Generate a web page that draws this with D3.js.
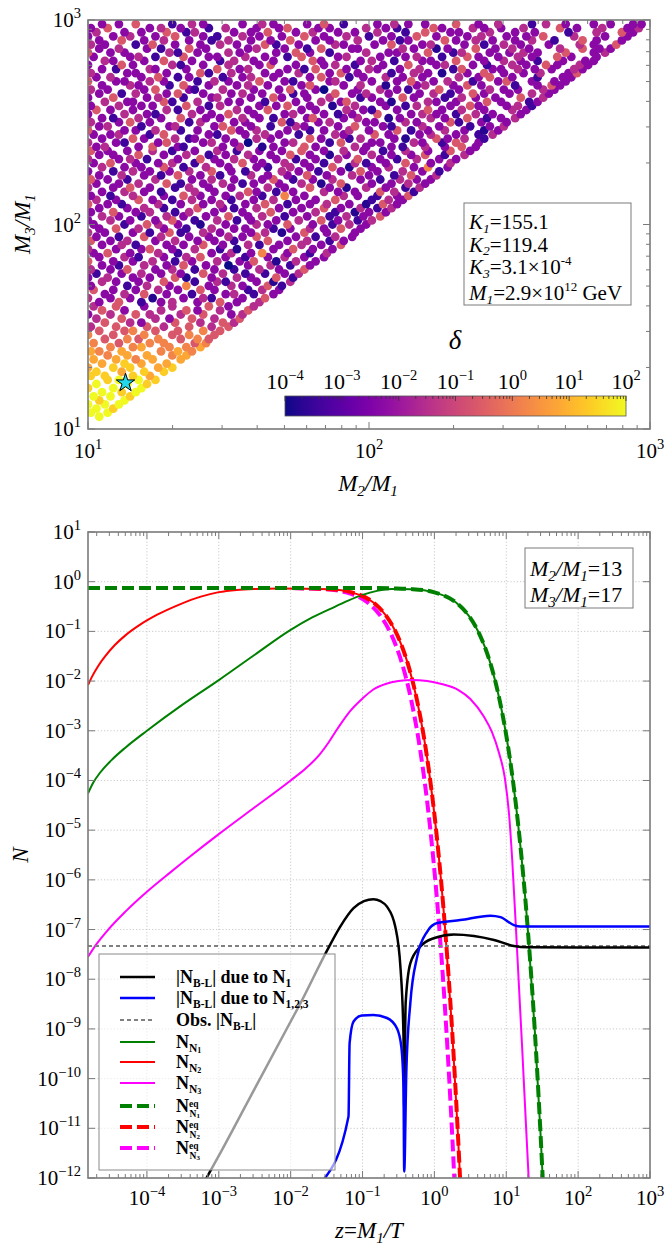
<!DOCTYPE html>
<html><head><meta charset="utf-8">
<script src="https://cdn.jsdelivr.net/npm/d3@7"></script>
<style>body{margin:0;background:#fff}text{font-family:"Liberation Serif","Times New Roman",serif;fill:#000}</style>
</head><body>
<script>
// ================= DATA =================
// Top panel scatter. Row index = yy: log10(M3/M1) = 1 + yy*rowStep.
// Token "xxxd": log10(M2/M1) = 1 + xxx*colStep ; d = delta level code (see deltaLevels)
const rowStep = 0.02, colStep = 0.01;
const scatterRows = [
"","","",
"0049",
"0019 0079",
"0039 0098",
"0009 0069 0119",
"0048 0139",
"0029 0089 0158",
"0059 0128 0179",
"0008 0099 0199",
"0039 0149 0218",
"0078 0119 0189 0248",
"0018 0068 0168 0227",
"0038 0127 0208 0278",
"0007 0098 0158 0257 0308",
"0057 0138 0197 0287",
"0027 0107 0176 0237 0337",
"0076 0147 0217 0306 0357",
"0017 0046 0127 0266 0327 0376",
"0086 0166 0197 0296 0356 0407",
"0026 0115 0226 0276 0385 0426",
"0065 0146 0185 0256 0335 0396 0435",
"0006 0095 0206 0305 0366 0455",
"0045 0135 0166 0245 0325 0416 0475",
"0014 0105 0215 0274 0365 0444 0505",
"0065 0154 0193 0315 0404 0485 0524",
"0034 0125 0244 0293 0375 0454 0545",
"0003 0084 0175 0224 0334 0415 0513 0554",
"0055 0133 0264 0355 0393 0474 0575",
"0024 0105 0203 0304 0435 0503 0594",
"0043 0115 0192 0263 0304 0393 0475 0533 0614",
"0004 0083 0153 0231 0343 0414 0442 0553 0635",
"0063 0134 0205 0283 0372 0493 0524 0592 0663",
"0025 0093 0173 0254 0323 0405 0453 0572 0624 0683",
"0013 0142 0214 0293 0356 0433 0514 0553 0645 0692",
"0054 0103 0183 0275 0382 0464 0492 0603 0661 0724",
"0003 0074 0163 0223 0315 0351 0443 0534 0583 0675 0732",
"0032 0123 0194 0263 0333 0415 0484 0562 0632 0703 0754",
"0014 0083 0145 0243 0304 0382 0453 0522 0614 0683 0775",
"0053 0112 0204 0283 0345 0423 0500 0573 0654 0722 0793",
"0005 0093 0163 0234 0312 0373 0464 0543 0595 0671 0744 0813",
"0043 0134 0182 0273 0354 0405 0493 0562 0643 0704 0773 0843",
"0023 0075 0153 0254 0322 0443 0514 0583 0626 0713 0792 0854",
"0004 0103 0193 0225 0303 0384 0472 0531 0663 0735 0803 0873",
"0053 0124 0172 0283 0343 0415 0483 0574 0612 0683 0764 0833 0905",
"0015 0083 0144 0243 0314 0393 0453 0522 0645 0713 0784 0862 0913",
"0033 0112 0205 0264 0363 0433 0504 0553 0605 0743 0812 0884 0943",
"0004 0063 0163 0222 0295 0332 0414 0473 0583 0634 0691 0775 0853 0953",
"0043 0105 0184 0273 0352 0444 0523 0563 0662 0723 0794 0843 0905 0973",
"0023 0132 0215 0254 0323 0401 0493 0604 0643 0715 0803 0872 0934 0993",
"0003 0084 0153 0243 0305 0382 0464 0532 0583 0673 0754 0835 0893 0962 1014",
"0054 0113 0192 0284 0343 0423 0505 0573 0624 0702 0783 0862 0924 0983 1045",
"0013 0095 0173 0224 0312 0364 0453 0553 0655 0733 0814 0882 0951 1003 1063",
"0043 0143 0204 0272 0395 0483 0522 0604 0683 0763 0845 0903 0974 1032 1084",
"0005 0073 0122 0254 0333 0413 0474 0563 0635 0712 0793 0854 0933 0991 1055 1103",
"0034 0103 0185 0233 0302 0374 0443 0512 0593 0664 0743 0813 0885 1012 1074 1123",
"0013 0082 0164 0273 0345 0403 0493 0544 0622 0706 0773 0914 0963 1032 1103 1145",
"0053 0134 0203 0262 0384 0453 0575 0603 0672 0733 0844 0893 0953 1045 1094 1162",
"0004 0093 0155 0223 0312 0364 0433 0513 0644 0703 0795 0863 0921 0994 1063 1132 1184",
"0033 0113 0184 0285 0332 0413 0484 0552 0593 0683 0764 0831 0905 1013 1083 1144 1203",
"0015 0073 0142 0244 0373 0444 0523 0623 0665 0732 0803 0874 0973 1042 1114 1173 1223",
"0043 0124 0203 0262 0325 0403 0472 0584 0643 0713 0785 0853 0944 1003 1092 1155 1244",
"0003 0092 0164 0223 0293 0364 0445 0513 0562 0694 0753 0822 0903 0975 1033 1124 1193 1252",
"0054 0133 0193 0275 0342 0424 0503 0603 0642 0724 0793 0875 0931 1013 1074 1163 1216 1283",
"0023 0085 0173 0253 0304 0382 0473 0555 0623 0704 0773 0842 0954 0992 1063 1135 1223 1294",
"0004 0113 0154 0212 0323 0405 0453 0524 0593 0673 0742 0813 0894 0965 1043 1102 1174 1253 1313",
"0043 0093 0185 0273 0354 0432 0493 0574 0653 0725 0793 0861 0923 1014 1083 1153 1205 1272 1344",
"0015 0073 0143 0234 0302 0383 0464 0532 0613 0693 0765 0843 0914 0983 1052 1134 1213 1295 1363",
"0033 0064 0183 0235 0323 0342 0483 0544 0621 0663 0775 0813 0954 0993 1083 1122 1204 1273 1335 1383",
"0004 0103 0132 0253 0285 0413 0444 0523 0570 0703 0734 0862 0905 1013 1043 1164 1193 1262 1315 1393",
"0053 0165 0203 0314 0362 0383 0493 0604 0653 0795 0833 0932 0974 1093 1131 1245 1283 1344 1412",
"0023 0083 0114 0222 0275 0433 0462 0563 0634 0683 0752 0884 0913 1025 1073 1183 1224 1313 1392 1444",
"0005 0133 0173 0244 0332 0393 0515 0543 0604 0713 0792 0843 0934 1003 1105 1152 1213 1274 1343 1411 1463",
"0043 0074 0192 0293 0314 0453 0485 0583 0652 0744 0773 0893 0955 1053 1082 1194 1253 1362 1433 1484",
"0014 0113 0155 0223 0362 0404 0523 0563 0695 0722 0823 0864 0993 1023 1134 1173 1295 1322 1403 1493",
"0053 0092 0184 0263 0335 0423 0473 0554 0613 0662 0783 0805 0913 0964 1071 1113 1224 1273 1355 1422 1473 1524",
"0003 0134 0213 0242 0374 0443 0505 0593 0703 0734 0843 0892 0943 1035 1153 1194 1243 1312 1384 1443 1543",
"0035 0083 0163 0284 0322 0403 0534 0573 0645 0763 0813 0924 0983 1012 1103 1215 1263 1334 1413 1514 1563",
"0013 0114 0193 0233 0355 0432 0474 0613 0673 0715 0793 0871 0954 1063 1132 1174 1293 1365 1393 1493 1534 1582",
"0064 0143 0163 0275 0302 0394 0503 0543 0632 0743 0834 0903 0925 1043 1081 1214 1243 1313 1425 1473 1572 1603",
"0003 0095 0213 0254 0342 0443 0464 0583 0665 0693 0783 0864 0972 1013 1125 1163 1272 1334 1383 1453 1545 1624",
"0043 0122 0174 0283 0325 0413 0513 0554 0623 0732 0773 0885 0943 0994 1073 1183 1234 1292 1375 1413 1503 1584 1643",
"0014 0073 0203 0245 0363 0382 0484 0593 0683 0725 0813 0840 0963 1044 1103 1142 1255 1323 1434 1483 1533 1624 1663",
"0053 0154 0183 0292 0345 0433 0533 0574 0643 0763 0795 0913 0974 1061 1173 1204 1303 1355 1403 1522 1603 1655 1683",
"0005 0103 0133 0224 0273 0392 0454 0503 0615 0703 0732 0863 0884 1013 1103 1155 1233 1284 1372 1463 1495 1583 1663 1703",
"0033 0084 0193 0255 0322 0363 0482 0553 0584 0663 0793 0835 0932 0983 1064 1123 1193 1324 1393 1435 1513 1602 1693 1723",
"0014 0143 0173 0283 0405 0432 0514 0633 0683 0754 0863 0905 0963 1082 1164 1213 1261 1353 1415 1483 1553 1614 1713 1745",
"0053 0102 0224 0243 0353 0465 0543 0574 0713 0772 0815 0923 1004 1033 1113 1184 1302 1335 1443 1473 1534 1593 1653 1734 1763",
"0003 0125 0163 0304 0332 0413 0504 0613 0655 0743 0843 0884 0952 1053 1145 1243 1274 1373 1422 1514 1563 1635 1673 1754 1783",
"0064 0093 0203 0275 0373 0472 0524 0593 0663 0805 0833 0973 1014 1092 1193 1223 1315 1413 1484 1543 1602 1693 1773 1803",
"0023 0153 0184 0242 0345 0433 0463 0564 0633 0712 0765 0893 0924 1043 1133 1174 1262 1355 1393 1463 1534 1583 1675 1723 1813",
"0005 0083 0133 0294 0322 0393 0504 0543 0673 0745 0793 0862 0994 1073 1103 1215 1302 1334 1433 1503 1554 1603 1705 1803 1844",
"0043 0114 0213 0262 0365 0423 0573 0604 0703 0782 0835 0943 0963 1124 1163 1241 1283 1385 1453 1514 1573 1684 1765 1823 1863",
"0014 0063 0172 0235 0313 0403 0474 0533 0635 0672 0753 0884 0913 1023 1085 1193 1224 1343 1412 1484 1543 1643 1754 1803 1885",
"0043 0125 0203 0274 0363 0442 0504 0583 0653 0725 0813 0863 0964 1053 1112 1143 1275 1313 1384 1443 1523 1584 1662 1765 1813 1903",
"0003 0093 0154 0243 0315 0413 0462 0554 0613 0693 0775 0843 0924 1002 1083 1175 1243 1353 1404 1493 1563 1625 1734 1843 1923",
"0034 0133 0193 0285 0352 0384 0523 0583 0645 0743 0804 0893 0953 1034 1132 1205 1293 1323 1434 1523 1593 1712 1814 1905 1943",
"0013 0075 0223 0264 0333 0432 0494 0603 0683 0715 0823 0863 0994 1063 1102 1235 1263 1374 1413 1473 1554 1685 1743 1834 1923 1964",
"0053 0113 0175 0302 0374 0413 0553 0624 0663 0783 0845 0912 1033 1094 1143 1203 1315 1393 1464 1582 1634 1703 1803 1863 1943 1973"
];
// log10(delta) for each level code 0..9
const deltaLevels = [-4.0, -3.75, -3.45, -2.3, -1.55, -0.65, 0.2, 0.8, 1.4, 2.0];
const deltaTickExps = [-4, -3, -2, -1, 0, 1, 2];
const starM2 = 13.6, starM3 = 16.8;
const boxLines = ["155.1", "119.4", "3.1", "2.9"];
const topXTickExps = [1, 2, 3];
const topYTickExps = [1, 2, 3];

// Bottom panel: curves as [log10 z, log10 N]
const nBL1 = [[-3.21,-12.1],[-2.98,-11.5],[-2.5,-10.2],[-2.0,-8.85],[-1.87,-8.5],[-1.5,-7.44],[-1.31,-6.94],[-1.125,-6.57],[-0.98,-6.43],[-0.85,-6.39],[-0.75,-6.43],[-0.66,-6.54],[-0.545,-6.94],[-0.47,-7.81],[-0.43,-9.15],[-0.42,-10.6],[-0.40,-8.48],[-0.335,-7.68],[-0.195,-7.34],[-0.01,-7.175],[0.27,-7.10],[0.55,-7.13],[0.83,-7.21],[1.106,-7.33],[1.3,-7.355],[2.0,-7.36],[3.0,-7.36]];
const nBL123 = [[-1.544,-12.04],[-1.195,-10.76],[-1.18,-9.29],[-1.125,-8.85],[-1.01,-8.73],[-0.85,-8.72],[-0.66,-8.78],[-0.52,-8.99],[-0.46,-9.36],[-0.43,-10.16],[-0.42,-11.87],[-0.39,-9.83],[-0.335,-8.48],[-0.24,-7.55],[-0.10,-7.04],[0.04,-6.87],[0.36,-6.81],[0.78,-6.72],[0.92,-6.75],[1.106,-6.91],[1.2,-6.94],[2.0,-6.94],[3.0,-6.94]];
const obsNBL = -7.33;
const nN1 = [[-4.82,-4.26],[-4.75,-4.05],[-4.65,-3.84],[-4.5,-3.6],[-4.3,-3.34],[-4.0,-3.0],[-3.5,-2.47],[-3.0,-1.98],[-2.5,-1.47],[-2.0,-0.97],[-1.7,-0.72],[-1.38,-0.50],[-1.2,-0.38],[-1.0,-0.265],[-0.8,-0.185],[-0.6,-0.145],[-0.3,-0.15],[0,-0.215],[0.301,-0.419],[0.477,-0.683],[0.602,-0.981],[0.699,-1.303],[0.778,-1.638],[0.903,-2.352],[1,-3.093],[1.079,-3.855],[1.176,-5.025],[1.301,-7.022],[1.398,-9.056],[1.477,-11.115],[1.505,-11.94],[1.519,-12.36]];
const nN2 = [[-4.82,-2.08],[-4.76,-1.9],[-4.68,-1.7],[-4.58,-1.5],[-4.45,-1.28],[-4.3,-1.08],[-4.1,-0.87],[-3.85,-0.66],[-3.55,-0.46],[-3.25,-0.3],[-3.0,-0.21],[-2.75,-0.165],[-2.5,-0.145],[-2.15,-0.135],[-1.45,-0.15],[-1.15,-0.215],[-0.849,-0.419],[-0.673,-0.683],[-0.548,-0.981],[-0.451,-1.303],[-0.372,-1.638],[-0.247,-2.352],[-0.15,-3.093],[-0.071,-3.855],[0.026,-5.025],[0.151,-7.022],[0.248,-9.056],[0.327,-11.115],[0.355,-11.94],[0.369,-12.36]];
const nN3 = [[-4.82,-7.55],[-4.7,-7.29],[-4.55,-7.02],[-4.3,-6.64],[-4.0,-6.24],[-3.7,-5.88],[-3.4,-5.53],[-3.0,-5.08],[-2.5,-4.54],[-2.0,-4.0],[-1.8,-3.77],[-1.61,-3.5],[-1.47,-3.23],[-1.335,-2.93],[-1.17,-2.6],[-1.0,-2.35],[-0.85,-2.17],[-0.68,-2.06],[-0.5,-2.0],[-0.315,-1.98],[-0.1,-2.0],[0.1,-2.06],[0.335,-2.18],[0.5,-2.36],[0.69,-2.72],[0.8,-3.02],[0.9,-3.45],[0.98,-3.95],[1.04,-4.7],[1.083,-5.6],[1.15,-7.4],[1.22,-9.35],[1.28,-11.1],[1.315,-12.1]];
const nN1eq = [[-4.82,-0.125],[-1,-0.126],[-0.6,-0.135],[-0.3,-0.15],[0,-0.215],[0.301,-0.419],[0.477,-0.683],[0.602,-0.981],[0.699,-1.303],[0.778,-1.638],[0.903,-2.352],[1,-3.093],[1.079,-3.855],[1.176,-5.025],[1.301,-7.022],[1.398,-9.056],[1.477,-11.115],[1.505,-11.94],[1.519,-12.36]];
const nN2eq = [[-4.82,-0.125],[-2.15,-0.126],[-1.45,-0.15],[-1.15,-0.215],[-0.849,-0.419],[-0.673,-0.683],[-0.548,-0.981],[-0.451,-1.303],[-0.372,-1.638],[-0.247,-2.352],[-0.15,-3.093],[-0.071,-3.855],[0.026,-5.025],[0.151,-7.022],[0.248,-9.056],[0.327,-11.115],[0.355,-11.94],[0.369,-12.36]];
const nN3eq = [[-4.82,-0.125],[-2.23,-0.126],[-1.53,-0.15],[-1.23,-0.215],[-0.929,-0.419],[-0.753,-0.683],[-0.628,-0.981],[-0.531,-1.303],[-0.452,-1.638],[-0.327,-2.352],[-0.23,-3.093],[-0.151,-3.855],[-0.054,-5.025],[0.071,-7.022],[0.168,-9.056],[0.247,-11.115],[0.275,-11.94],[0.289,-12.36]];
const botXTickExps = [-4,-3,-2,-1,0,1,2,3];
const botYTickExps = [1,0,-1,-2,-3,-4,-5,-6,-7,-8,-9,-10,-11,-12];
const ratioLabels = ["13", "17"];

// ================= DRAWING =================
const FONT = '"Liberation Serif","Times New Roman",serif';
const svg = d3.select("body").append("svg").attr("width",665).attr("height",1245)
  .attr("font-family", FONT).style("display","block");
const defs = svg.append("defs");
const AX = "#7a7a7a";

function rich(parent, x, y, parts, o = {}) {
  const t = parent.append("text").attr("x", x).attr("y", y).attr("font-family", FONT)
    .attr("font-size", o.size || 21).attr("text-anchor", o.anchor || "start")
    .attr("font-weight", o.weight || "normal");
  if (o.rotate) t.attr("transform", `rotate(${o.rotate},${x},${y})`);
  let cur = 0;
  parts.forEach(p => {
    const sh = p.sh || 0;
    const ts = t.append("tspan").text(p.t).attr("dy", cur - sh);
    cur = sh;
    if (p.s) ts.attr("font-size", p.s);
    if (p.i) ts.style("font-style", "italic");
  });
  return t;
}
const expTxt = k => (k < 0 ? "\u2212" + (-k) : "" + k);
const pow10 = k => [{t: "10"}, {t: expTxt(k), s: 14.5, sh: 9}];

function logTickVals(lo, hi) {
  const maj = [], min = [];
  for (let e = Math.floor(Math.log10(lo)) - 1; e <= Math.ceil(Math.log10(hi)); e++) {
    for (let m = 1; m < 10; m++) {
      const v = m * Math.pow(10, e);
      if (v < lo * 0.9999 || v > hi * 1.0001) continue;
      (m === 1 ? maj : min).push(v);
    }
  }
  return {maj, min};
}

function frameTicks(P, xs, ys, yMinor) {
  const g = svg.append("g").attr("stroke", AX).attr("stroke-width", 1);
  const xt = logTickVals(xs.domain()[0], xs.domain()[1]);
  const yt = logTickVals(ys.domain()[0], ys.domain()[1]);
  const tick = (a, b, c, d) => g.append("line").attr("x1", a).attr("y1", b).attr("x2", c).attr("y2", d);
  xt.maj.forEach(v => { const X = xs(v); tick(X, P.b, X, P.b - 7); tick(X, P.t, X, P.t + 7); });
  xt.min.forEach(v => { const X = xs(v); tick(X, P.b, X, P.b - 4); tick(X, P.t, X, P.t + 4); });
  yt.maj.forEach(v => { const Y = ys(v); tick(P.l, Y, P.l + 7, Y); tick(P.r, Y, P.r - 7, Y); });
  if (yMinor) yt.min.forEach(v => { const Y = ys(v); tick(P.l, Y, P.l + 4, Y); tick(P.r, Y, P.r - 4, Y); });
  svg.append("rect").attr("x", P.l).attr("y", P.t).attr("width", P.r - P.l).attr("height", P.b - P.t)
    .attr("fill", "none").attr("stroke", AX).attr("stroke-width", 1.6);
}

// ---------- TOP PANEL ----------
const P1 = {l: 88, r: 650, t: 20, b: 429};
const x1 = d3.scaleLog().domain([10, 1000]).range([P1.l, P1.r]);
const y1 = d3.scaleLog().domain([10, 1000]).range([P1.b, P1.t]);
const cmap = d3.scaleSequential(d3.interpolatePlasma).domain([-4, 2]);
defs.append("clipPath").attr("id", "c1").append("rect")
  .attr("x", P1.l).attr("y", P1.t).attr("width", P1.r - P1.l).attr("height", P1.b - P1.t);

const pts = [];
scatterRows.forEach((row, yy) => {
  row.split(" ").filter(s => s.length === 4).forEach(tok => {
    const xx = +tok.slice(0, 3), d = +tok[3];
    pts.push({m2: Math.pow(10, 1 + xx * colStep), m3: Math.pow(10, 1 + yy * rowStep), ld: deltaLevels[d]});
  });
});
svg.append("g").attr("clip-path", "url(#c1)").selectAll("circle").data(pts).join("circle")
  .attr("cx", d => x1(d.m2)).attr("cy", d => y1(d.m3)).attr("r", 4.4)
  .attr("fill", d => cmap(d.ld));

svg.append("path").attr("d", d3.symbol(d3.symbolStar, 105)())
  .attr("transform", `translate(${x1(starM2)},${y1(starM3)})`)
  .attr("fill", "#22d8ec").attr("stroke", "#000").attr("stroke-width", 1);

frameTicks(P1, x1, y1, true);

topXTickExps.forEach(k => rich(svg, x1(Math.pow(10, k)), 458, pow10(k), {anchor: "middle"}));
topYTickExps.forEach(k => rich(svg, 81, y1(Math.pow(10, k)) + 7, pow10(k), {anchor: "end"}));

rich(svg, 368, 491, [{t: "M", i: 1}, {t: "2", i: 1, s: 15, sh: -5}, {t: "/M", i: 1}, {t: "1", i: 1, s: 15, sh: -5}], {size: 23, anchor: "middle"});
rich(svg, 30, 224, [{t: "M", i: 1}, {t: "3", i: 1, s: 15, sh: -5}, {t: "/M", i: 1}, {t: "1", i: 1, s: 15, sh: -5}], {size: 23, anchor: "middle", rotate: -90});

// info box
svg.append("rect").attr("x", 464).attr("y", 203).attr("width", 167).attr("height", 102)
  .attr("fill", "#fff").attr("stroke", AX).attr("stroke-width", 1);
const BX = 469;
rich(svg, BX, 229, [{t: "K", i: 1}, {t: "1", i: 1, s: 13.5, sh: -3.5}, {t: "=" + boxLines[0]}], {size: 21});
rich(svg, BX, 251.5, [{t: "K", i: 1}, {t: "2", i: 1, s: 13.5, sh: -3.5}, {t: "=" + boxLines[1]}], {size: 21});
rich(svg, BX, 274, [{t: "K", i: 1}, {t: "3", i: 1, s: 13.5, sh: -3.5}, {t: "=" + boxLines[2] + "\u00d710"}, {t: "-4", s: 13, sh: 9}], {size: 21});
rich(svg, BX, 300, [{t: "M", i: 1}, {t: "1", i: 1, s: 13.5, sh: -3.5}, {t: "=" + boxLines[3] + "\u00d710"}, {t: "12", s: 13, sh: 9}, {t: " GeV"}], {size: 21});

// colorbar
const CB = {l: 285, r: 626, t: 396, b: 416};
const cx = d3.scaleLog().domain([1e-4, 1e2]).range([CB.l, CB.r]);
const grad = defs.append("linearGradient").attr("id", "gplasma").attr("x1", 0).attr("x2", 1).attr("y1", 0).attr("y2", 0);
d3.range(0, 1.0001, 0.05).forEach(s => grad.append("stop").attr("offset", s).attr("stop-color", d3.interpolatePlasma(s)));
svg.append("rect").attr("x", CB.l).attr("y", CB.t).attr("width", CB.r - CB.l).attr("height", CB.b - CB.t)
  .attr("fill", "url(#gplasma)").attr("stroke", "#555").attr("stroke-width", 0.8);
const cbt = logTickVals(1e-4, 1e2);
const cbg = svg.append("g").attr("stroke", "#333").attr("stroke-width", 0.8);
cbt.maj.forEach(v => cbg.append("line").attr("x1", cx(v)).attr("x2", cx(v)).attr("y1", CB.t).attr("y2", CB.t + 5));
cbt.min.forEach(v => cbg.append("line").attr("x1", cx(v)).attr("x2", cx(v)).attr("y1", CB.t).attr("y2", CB.t + 3));
deltaTickExps.forEach(k => rich(svg, cx(Math.pow(10, k)), 389, pow10(k), {anchor: "middle", size: 22}));
rich(svg, 455, 349, [{t: "\u03b4", i: 1}], {size: 27, anchor: "middle"});

// ---------- BOTTOM PANEL ----------
const P2 = {l: 88, r: 650, t: 532, b: 1178};
const x2 = d3.scaleLog().domain([Math.pow(10, -4.82), 1000]).range([P2.l, P2.r]);
const y2 = d3.scaleLog().domain([1e-12, 10]).range([P2.b, P2.t]);
defs.append("clipPath").attr("id", "c2").append("rect")
  .attr("x", P2.l).attr("y", P2.t).attr("width", P2.r - P2.l).attr("height", P2.b - P2.t);

const gg = svg.append("g").attr("stroke", "#c4c4c4").attr("stroke-width", 0.9).attr("stroke-dasharray", "1.2,2");
botXTickExps.forEach(k => { const X = x2(Math.pow(10, k)); if (X > P2.l + 1 && X < P2.r - 1) gg.append("line").attr("x1", X).attr("x2", X).attr("y1", P2.t).attr("y2", P2.b); });
botYTickExps.forEach(k => { const Y = y2(Math.pow(10, k)); if (Y > P2.t + 1 && Y < P2.b - 1) gg.append("line").attr("x1", P2.l).attr("x2", P2.r).attr("y1", Y).attr("y2", Y); });

const line2 = d3.line().x(d => x2(Math.pow(10, d[0]))).y(d => y2(Math.pow(10, d[1]))).curve(d3.curveMonotoneX);
const cg = svg.append("g").attr("clip-path", "url(#c2)");
function curve(data, color, w, dash) {
  const p = cg.append("path").attr("d", line2(data)).attr("fill", "none").attr("stroke", color)
    .attr("stroke-width", w).attr("stroke-linejoin", "round");
  if (dash) p.attr("stroke-dasharray", dash);
}
const EQDASH = "12,5";
curve(nN3eq, "#ff00ff", 4, EQDASH);
curve(nN2eq, "#ff0000", 4, EQDASH);
curve(nN1, "#008000", 2, null);
curve(nN2, "#ff0000", 2, null);
curve(nN3, "#ff00ff", 2, null);
curve(nN1eq, "#008000", 4, EQDASH);
cg.append("line").attr("x1", P2.l).attr("x2", P2.r).attr("y1", y2(Math.pow(10, obsNBL))).attr("y2", y2(Math.pow(10, obsNBL)))
  .attr("stroke", "#808080").attr("stroke-width", 2).attr("stroke-dasharray", "4,3");
curve(nBL1, "#000000", 2.5, null);
curve(nBL123, "#0000ff", 2.5, null);

frameTicks(P2, x2, y2, false);
botXTickExps.forEach(k => rich(svg, x2(Math.pow(10, k)), 1205, pow10(k), {anchor: "middle"}));
botYTickExps.forEach(k => rich(svg, 81, y2(Math.pow(10, k)) + 7, pow10(k), {anchor: "end"}));
rich(svg, 369, 1238, [{t: "z", i: 1}, {t: "="}, {t: "M", i: 1}, {t: "1", i: 1, s: 15, sh: -5}, {t: "/T", i: 1}], {size: 23, anchor: "middle"});
rich(svg, 28, 855, [{t: "N", i: 1}], {size: 23, anchor: "middle", rotate: -90});

// ratio box
svg.append("rect").attr("x", 525).attr("y", 548).attr("width", 108).attr("height", 60)
  .attr("fill", "#fff").attr("stroke", AX).attr("stroke-width", 1);
rich(svg, 530, 576, [{t: "M", i: 1}, {t: "2", i: 1, s: 15, sh: -5}, {t: "/M", i: 1}, {t: "1", i: 1, s: 15, sh: -5}, {t: "=" + ratioLabels[0]}], {size: 22});
rich(svg, 530, 602, [{t: "M", i: 1}, {t: "3", i: 1, s: 15, sh: -5}, {t: "/M", i: 1}, {t: "1", i: 1, s: 15, sh: -5}, {t: "=" + ratioLabels[1]}], {size: 22});

// legend
svg.append("rect").attr("x", 99).attr("y", 954).attr("width", 236).attr("height", 216)
  .attr("fill", "#fff").attr("fill-opacity", 0.6).attr("stroke", "#8a8a8a").attr("stroke-width", 1);
const lg = svg.append("g");
const LX1 = 120, LX2 = 155, TX = 176;
const SB = 11.5;
const legendEntries = [
  {y: 977, c: "#000", w: 2.5, dash: null, parts: [{t: "|N"}, {t: "B-L", s: SB, sh: -4}, {t: "| due to N"}, {t: "1", s: SB, sh: -4}]},
  {y: 998, c: "#0000ff", w: 2.5, dash: null, parts: [{t: "|N"}, {t: "B-L", s: SB, sh: -4}, {t: "| due to N"}, {t: "1,2,3", s: SB, sh: -4}]},
  {y: 1020, c: "#808080", w: 2, dash: "4,3", parts: [{t: "Obs. |N"}, {t: "B-L", s: SB, sh: -4}, {t: "|"}]},
  {y: 1042, c: "#008000", w: 2, dash: null, parts: [{t: "N"}, {t: "N", s: SB, sh: -4}, {t: "1", s: 8, sh: -5}]},
  {y: 1062, c: "#ff0000", w: 2, dash: null, parts: [{t: "N"}, {t: "N", s: SB, sh: -4}, {t: "2", s: 8, sh: -5}]},
  {y: 1083, c: "#ff00ff", w: 2, dash: null, parts: [{t: "N"}, {t: "N", s: SB, sh: -4}, {t: "3", s: 8, sh: -5}]},
  {y: 1106, c: "#008000", w: 4, dash: EQDASH, eq: "1"},
  {y: 1127, c: "#ff0000", w: 4, dash: EQDASH, eq: "2"},
  {y: 1148, c: "#ff00ff", w: 4, dash: EQDASH, eq: "3"}
];
legendEntries.forEach(e => {
  const l = lg.append("line").attr("x1", LX1).attr("x2", LX2).attr("y1", e.y).attr("y2", e.y)
    .attr("stroke", e.c).attr("stroke-width", e.w);
  if (e.dash) l.attr("stroke-dasharray", e.dash);
  if (e.parts) {
    rich(lg, TX, e.y + 6, e.parts, {size: 18, weight: "bold"});
  } else {
    const t = lg.append("text").attr("x", TX).attr("y", e.y + 6).attr("font-family", FONT)
      .attr("font-size", 18).attr("font-weight", "bold");
    t.append("tspan").text("N");
    const w = t.node().getComputedTextLength();
    t.append("tspan").text("eq").attr("font-size", 9.5).attr("dy", -5.5);
    t.append("tspan").text("N").attr("font-size", 9.5).attr("x", TX + w + 0.5).attr("dy", 10.75);
    t.append("tspan").text(e.eq).attr("font-size", 7).attr("dy", 0.5);
  }
});
</script>
</body></html>
